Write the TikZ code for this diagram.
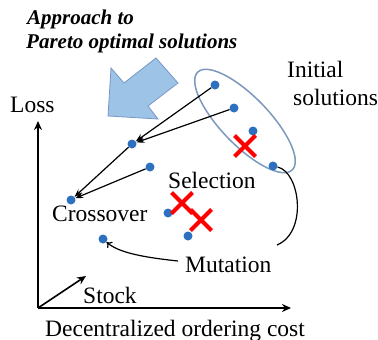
\documentclass[tikz,border=0pt]{standalone}
\usepackage{fontspec}
\setmainfont{Liberation Serif}
\usetikzlibrary{arrows.meta,shapes.misc}
\definecolor{dotblue}{RGB}{46,112,192}
\definecolor{ringblue}{RGB}{124,152,188}
\definecolor{bigfill}{RGB}{157,195,230}
\definecolor{bigedge}{RGB}{120,150,200}

\begin{document}
\begin{tikzpicture}[x=1pt,y=-1pt,font=\fontsize{23.5}{26}\selectfont,
  sol/.style={circle,fill=dotblue,inner sep=0pt,minimum size=9pt},
  lbl/.style={anchor=base west,inner sep=0pt},
  killed/.style={cross out,draw=red,line width=4pt,inner sep=0pt,minimum size=17pt},
  link/.style={line width=1.2pt,-{Stealth[length=8pt,width=6pt]}},
  axis/.style={line width=1.6pt,-{Stealth[length=9pt,width=8pt]}}]
\useasboundingbox (0,0) rectangle (378,340);

% big arrow towards the front
\draw[fill=bigfill,draw=bigedge,line width=0.8pt] (156,58) -- (178,83) -- (148,106) -- (158,119) -- (108,116) -- (111,68) -- (124,83) -- cycle;
\node (appr) [lbl,font=\fontsize{21}{24}\selectfont\bfseries\itshape] at (27,24) {Approach to};
\node (pareto) [lbl,font=\fontsize{21}{24}\selectfont\bfseries\itshape] at (26,48) {Pareto optimal solutions};

% initial population
\draw[ringblue,line width=1.5pt] (245,121) ellipse [x radius=68, y radius=24, rotate=-46];
\node (init) [lbl] at (287,77) {Initial};
\node (sols) [lbl] at (293,105) {solutions};

\node (p1) [sol] at (215,85) {};
\node (p2) [sol] at (234,108) {};
\node (p3) [sol] at (253,131) {};
\node (p4) [sol] at (273,166) {};

\node (c1) [sol] at (132,144) {};
\node (c2) [sol] at (150,167) {};
\node (c3) [sol] at (71,200) {};
\node (q1) [sol] at (168,213) {};
\node (q2) [sol] at (188,236) {};
\node (m1) [sol] at (103,239) {};

\node (x1) [killed] at (245,146) {};
\node (x2) [killed] at (182,203) {};
\node (x3) [killed] at (201,220) {};

\draw[link] (p1) -- (c1);
\draw[link] (p2) -- (c1);
\draw[link] (c1) -- (c3);
\draw[link] (c2) -- (c3);

\node (sel) [lbl] at (168,188) {Selection};
\node (xover) [lbl] at (52,221) {Crossover};
\node (mut) [lbl] at (185,272) {Mutation};

% mutation
\coordinate (mutin) at (277,245);
\coordinate (mutout) at (178,261);
\draw[line width=1.2pt] (p4) .. controls (300,172) and (308,232) .. (mutin);
\draw[line width=1.2pt,-{To[length=5pt,width=8pt]}] (mutout) .. controls (140,257) and (118,252) .. (m1);

% axes
\coordinate (origin) at (38,308);
\coordinate (ytip) at (38,121);
\coordinate (xtip) at (291,308);
\coordinate (ztip) at (86,276);
\draw[axis] (origin) -- (ytip);
\draw[axis] (origin) -- (xtip);
\draw[axis] (origin) -- (ztip);
\node (loss) [lbl] at (10,112) {Loss};
\node (stock) [lbl] at (83,303) {Stock};
\node (cost) [lbl] at (45,336) {Decentralized ordering cost};

\end{tikzpicture}
\end{document}
